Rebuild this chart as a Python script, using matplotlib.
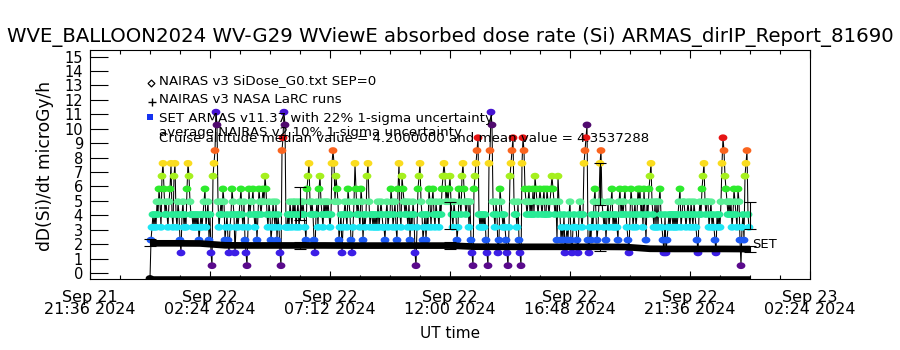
import matplotlib
matplotlib.use('Agg')
import numpy as np
import matplotlib.pyplot as plt
from matplotlib.ticker import FixedLocator
from matplotlib.path import Path

plt.rcParams['font.family'] = ['DejaVu Sans']

# ---------------- data ----------------
title = "WVE_BALLOON2024 WV-G29 WViewE absorbed dose rate (Si) ARMAS_dirIP_Report_81690"

# x axis: hours relative to Sep 22 00:00 UT
xtick_hours = [-2.4, 2.4, 7.2, 12.0, 16.8, 21.6, 26.4]
xtick_labels = ["Sep 21\n21:36 2024", "Sep 22\n02:24 2024", "Sep 22\n07:12 2024",
                "Sep 22\n12:00 2024", "Sep 22\n16:48 2024", "Sep 22\n21:36 2024",
                "Sep 23\n02:24 2024"]
ytick_values = list(range(0, 16))

# ARMAS quantized dose levels (microGy/h) and their plot colours
armas_level_dose = [0.0, 0.84, 1.68, 2.52, 3.36, 4.2, 5.04, 5.88, 6.72, 7.56,
                    8.4, 9.24, 10.08, 10.92]
armas_level_color = ['#000000', '#5a0a8c', '#3c1ee6', '#1e5af5', '#1ee6f5',
                     '#28eb96', '#5af096', '#2deb2d', '#a5f01e', '#fadc1e',
                     '#fa641e', '#e61414', '#500a6e', '#4614d2']
armas_start_hour = 0.0
armas_step_hours = 0.04
armas_level_index = [
    0, 3, 4, 5, 4, 5,   4, 6, 5, 7, 6, 4,   8, 9, 7, 5, 6, 5,   4, 6, 7, 9, 5, 4,
    8, 9, 5, 4, 6, 5,   3, 2, 5, 6, 4, 5,   4, 7, 9, 8, 6, 5,   5, 4, 5, 4, 5, 4,
    5, 3, 4, 5, 4, 5,   6, 7, 4, 5, 6, 3,   5, 2, 1, 8, 9, 10,  13, 12, 6, 4, 5, 6,
    5, 7, 6, 3, 4, 5,   3, 2, 4, 5, 7, 6,   5, 2, 4, 5, 4, 5,   6, 7, 5, 4, 6, 3,
    2, 1, 4, 7, 5, 6,   6, 7, 5, 4, 5, 3,   5, 7, 6, 5, 6, 7,   6, 8, 7, 5, 4, 6,
    5, 3, 4, 6, 5, 4,   6, 3, 5, 4, 2, 1,   10, 11, 13, 12, 4, 4, 5, 4, 6, 5, 4, 6,
    5, 6, 4, 5, 6, 4,   5, 6, 5, 6, 5, 4,   3, 7, 8, 9, 6, 5,   6, 5, 3, 2, 5, 6,
    4, 7, 8, 6, 5, 4,   6, 5, 6, 5, 6, 5,   4, 5, 9, 10, 9, 6,  8, 7, 6, 3, 4, 5,
    2, 4, 5, 6, 5, 4,   7, 6, 5, 3, 2, 4,   6, 9, 7, 5, 6, 5,   4, 7, 6, 3, 5, 4,
    5, 8, 9, 6, 4, 5,   5, 4, 5, 4, 5, 4,   6, 4, 5, 6, 5, 4,   4, 3, 5, 6, 4, 5,
    5, 7, 6, 4, 5, 6,   4, 3, 7, 9, 5, 4,   8, 7, 6, 5, 6, 5,   4, 6, 3, 5, 4, 6,
    5, 2, 1, 4, 7, 8,   9, 6, 5, 3, 4, 5,   3, 5, 4, 7, 6, 4,   6, 7, 5, 4, 6, 5,
    5, 4, 6, 5, 7, 8,   9, 8, 6, 7, 6, 7,   8, 6, 5, 4, 6, 5,   5, 3, 4, 7, 6, 5,
    8, 9, 7, 6, 5, 6,   6, 4, 6, 3, 2, 1,   7, 8, 9, 10, 11, 5,  4, 5, 4, 5, 4, 5,
    3, 2, 1, 9, 10, 13, 12, 6, 5, 4, 6, 5,  2, 3, 7, 6, 5, 4,   5, 4, 3, 2, 1, 4,
    8, 9, 10, 11, 6, 5, 5, 4, 6, 3, 2, 1,   9, 11, 10, 7, 6, 5, 6, 7, 5, 6, 5, 7,
    5, 8, 7, 6, 5, 6,   7, 6, 5, 6, 7, 5,   5, 7, 6, 5, 6, 7,   8, 7, 6, 5, 6, 3,
    8, 6, 5, 3, 4, 3,   5, 2, 3, 4, 3, 5,   6, 3, 2, 4, 5, 4,   4, 3, 2, 5, 6, 5,
    4, 5, 9, 10, 11, 12, 3, 2, 4, 3, 5, 4,  6, 7, 5, 3, 4, 6,   9, 10, 6, 5, 4, 5,
    3, 5, 6, 4, 5, 6,   7, 4, 5, 4, 5, 4,   3, 6, 7, 5, 6, 5,   6, 7, 5, 4, 3, 2,
    5, 7, 6, 4, 5, 6,   4, 5, 7, 6, 7, 5,   6, 4, 7, 5, 3, 6,   5, 7, 8, 9, 6, 5,
    4, 6, 4, 6, 4, 6,   7, 5, 4, 3, 2, 5,   2, 3, 4, 5, 4, 5,   5, 4, 5, 4, 5, 4,
    5, 6, 7, 4, 5, 6,   6, 5, 4, 5, 6, 5,   4, 6, 5, 4, 6, 5,   4, 3, 2, 5, 6, 5,
    7, 8, 9, 6, 5, 6,   6, 4, 5, 6, 4, 5,   4, 3, 2, 5, 4, 5,   4, 6, 9, 11, 10, 8,
    7, 6, 5, 6, 5, 6,   4, 5, 7, 6, 5, 4,   7, 6, 3, 1, 4, 5,   3, 8, 9, 10, 5, 4,
]

# NAIRAS v3 NASA LaRC runs (hourly)
nairas_hours = list(range(0, 25))
nairas_dose = [2.31, 2.31, 2.30, 2.18, 2.17, 2.17, 2.17, 2.17, 2.16, 2.16,
               2.16, 2.16, 2.16, 2.09, 2.08, 2.08, 2.08, 2.08, 2.08, 2.07,
               1.95, 1.94, 1.94, 1.94, 1.93]
nairas_bar_hours = [0, 6, 12, 18, 24]
nairas_bar_dose = [2.34, 2.17, 2.16, 2.01, 1.94]
nairas_rel_unc = 0.10

# ARMAS 6-hour averages with 22% uncertainty
armas_avg_hours = [6, 12, 18, 24]
armas_avg_dose = [4.93, 4.14, 6.21, 4.14]
armas_rel_unc = 0.22

# NAIRAS v3 SiDose_G0 SEP=0
sidose_hours = [0.0, 24.0]
sidose_dose = [0.0, 0.0]

legend_lines = ["NAIRAS v3 SiDose_G0.txt SEP=0",
                "NAIRAS v3 NASA LaRC runs",
                "SET ARMAS v11.37 with 22% 1-sigma uncertainty",
                "average NAIRAS v2 10% 1-sigma uncertainty",
                "Cruise altitude median value = 4.2000000 and mean value = 4.3537288"]

# ---------------- figure ----------------
W, H = 900, 350
fig = plt.figure(figsize=(W / 100, H / 100), dpi=100)
fig.patch.set_facecolor('white')
rect = [90 / W, 1 - 278.5 / H, 720 / W, 228.5 / H]
ax = fig.add_axes(rect)

def fx(px):
    return px / W

def fy(py):
    return 1 - py / H

# elliptical marker (wider than tall)
theta = np.linspace(0, 2 * np.pi, 41)
ellipse = Path(np.column_stack([1.3 * np.cos(theta), np.sin(theta)]), closed=True)

# ARMAS series
t = [armas_start_hour + i * armas_step_hours for i in range(len(armas_level_index))]
d = [armas_level_dose[k] for k in armas_level_index]
c = [armas_level_color[k] for k in armas_level_index]
ax.plot(t, d, color='black', lw=0.75, zorder=2)
ax.scatter(t, d, s=40, c=c, marker=ellipse, linewidths=0, zorder=3)

# zero line and NAIRAS line
ax.plot(sidose_hours, sidose_dose, color='black', lw=4.0, solid_capstyle='butt', zorder=4)
ax.plot(nairas_hours, nairas_dose, color='black', lw=4.8, solid_capstyle='butt', zorder=4)

# error bars
ax.errorbar(nairas_bar_hours, nairas_bar_dose,
            yerr=[v * nairas_rel_unc for v in nairas_bar_dose],
            fmt='none', ecolor='black', elinewidth=0.8, capsize=4, capthick=0.8, zorder=5)
ax.errorbar(armas_avg_hours, armas_avg_dose,
            yerr=[v * armas_rel_unc for v in armas_avg_dose],
            fmt='none', ecolor='black', elinewidth=0.8, capsize=4, capthick=0.8, zorder=5)

ax.text(24.1, 2.25, "SET", fontsize=9.5, ha='left', va='center', zorder=6)

# axes setup (data axes)
ax.set_xlim(-2.4, 26.4)
ax.set_ylim(0, 15)
ax.set_xticks(xtick_hours)
ax.set_xticklabels(xtick_labels, fontsize=11.5, linespacing=0.82)
ax.xaxis.set_minor_locator(FixedLocator([-2.4 + 1.2 * i for i in range(25)]))
ax.set_yticks([])
ax.tick_params(axis='x', which='major', direction='in', length=6, width=0.8,
               top=True, bottom=True, pad=8)
ax.tick_params(axis='x', which='minor', direction='in', length=3, width=0.8,
               top=True, bottom=True)
for s in ax.spines.values():
    s.set_linewidth(0.8)

# y tick axis (labelled scale drawn by the plotting program)
axy = fig.add_axes(rect)
axy.patch.set_visible(False)
for s in axy.spines.values():
    s.set_visible(False)
axy.set_xticks([])
axy.set_ylim(-0.38, 15.46)
axy.set_yticks(ytick_values)
axy.set_yticklabels([str(v) for v in ytick_values], fontsize=10.5)
axy.tick_params(axis='y', which='major', direction='in', length=13, width=0.8,
                left=True, right=False, pad=5)

fig.text(0.5, fy(37), title, ha='center', va='center', fontsize=14.2)
fig.text(fx(45), fy(166), "dD(Si)/dt microGy/h", rotation=90, ha='center', va='center',
         fontsize=12.3)
fig.text(0.5, fy(333), "UT time", ha='center', va='center', fontsize=11)

# legend block
fig.lines.append(plt.Line2D([fx(150.5)], [fy(82.5)], transform=fig.transFigure,
                            marker='D', markersize=3.5, markerfacecolor='white',
                            markeredgecolor='black', markeredgewidth=0.9, linestyle='none'))
fig.lines.append(plt.Line2D([fx(151.5)], [fy(101.5)], transform=fig.transFigure,
                            marker='+', markersize=6, markeredgecolor='black',
                            markeredgewidth=1.0, linestyle='none'))
fig.lines.append(plt.Line2D([fx(150)], [fy(117.5)], transform=fig.transFigure,
                            marker='s', markersize=4, markerfacecolor='#1432f0',
                            markeredgewidth=0, linestyle='none'))
leg_y = [80.5, 99.5, 118, 132, 138.5]
for txt, yy in zip(legend_lines, leg_y):
    fig.text(fx(159), fy(yy), txt, ha='left', va='center', fontsize=9.6)

fig.savefig('out.png', dpi=100, facecolor='white')
